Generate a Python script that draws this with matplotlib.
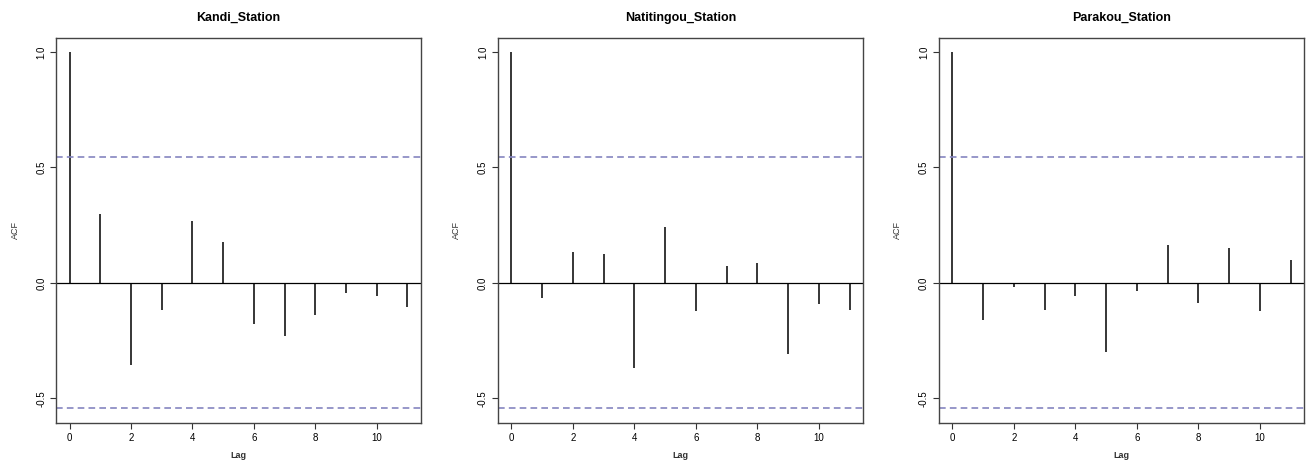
import matplotlib
matplotlib.use("Agg")
import matplotlib.pyplot as plt

plt.rcParams['font.family'] = ['Liberation Sans', 'DejaVu Sans']

# ACF values, lags 0..11
lags = list(range(12))
stations = ['Kandi_Station', 'Natitingou_Station', 'Parakou_Station']
kandi_acf = [1.0, 0.300, -0.355, -0.118, 0.267, 0.177, -0.176, -0.231, -0.141, -0.042, -0.055, -0.104]
natitingou_acf = [1.0, -0.065, 0.133, 0.123, -0.368, 0.240, -0.124, 0.071, 0.088, -0.306, -0.092, -0.118]
parakou_acf = [1.0, -0.162, -0.020, -0.118, -0.058, -0.299, -0.036, 0.165, -0.089, 0.152, -0.121, 0.101]
conf_limit = 0.5436  # 1.96 / sqrt(13)

W, H = 1307, 461
fig = plt.figure(figsize=(W / 100, H / 100), dpi=100)

# axes boxes in pixels: (left, right)
boxes = [(56, 421), (497.7, 863.3), (938.7, 1304.3)]
top, bottom = 37.7, 423

for (l, r), name, acf in zip(boxes, stations, [kandi_acf, natitingou_acf, parakou_acf]):
    ax = fig.add_axes([l / W, (H - bottom) / H, (r - l) / W, (bottom - top) / H])
    ax.vlines(lags, 0, acf, color='black', linewidth=1.1)
    ax.axhline(0, color='black', linewidth=0.9)
    for c in (conf_limit, -conf_limit):
        ax.axhline(c, color='#8585c0', linewidth=1.2, linestyle=(0, (4, 2.5)))
    ax.set_xlim(-0.44, 11.44)
    ax.set_ylim(-0.607, 1.062)
    ax.set_xticks([0, 2, 4, 6, 8, 10])
    ax.set_yticks([-0.5, 0.0, 0.5, 1.0])
    ax.set_yticklabels(['-0.5', '0.0', '0.5', '1.0'], rotation=90, va='center')
    ax.tick_params(labelsize=7, length=4, width=0.8, color='#333333', pad=3)
    for s in ax.spines.values():
        s.set_color('#444444')
        s.set_linewidth(1.0)
    fig.text((l + r) / 2 / W, (H - 21) / H, name, fontsize=9, fontweight='bold',
             ha='center', va='baseline')
    ax.set_xlabel('Lag', fontsize=6.5, fontweight='bold', color='#333333', labelpad=6)
    ax.set_ylabel('ACF', fontsize=6.5, color='#333333', labelpad=12)

fig.savefig('out.png', dpi=100)
